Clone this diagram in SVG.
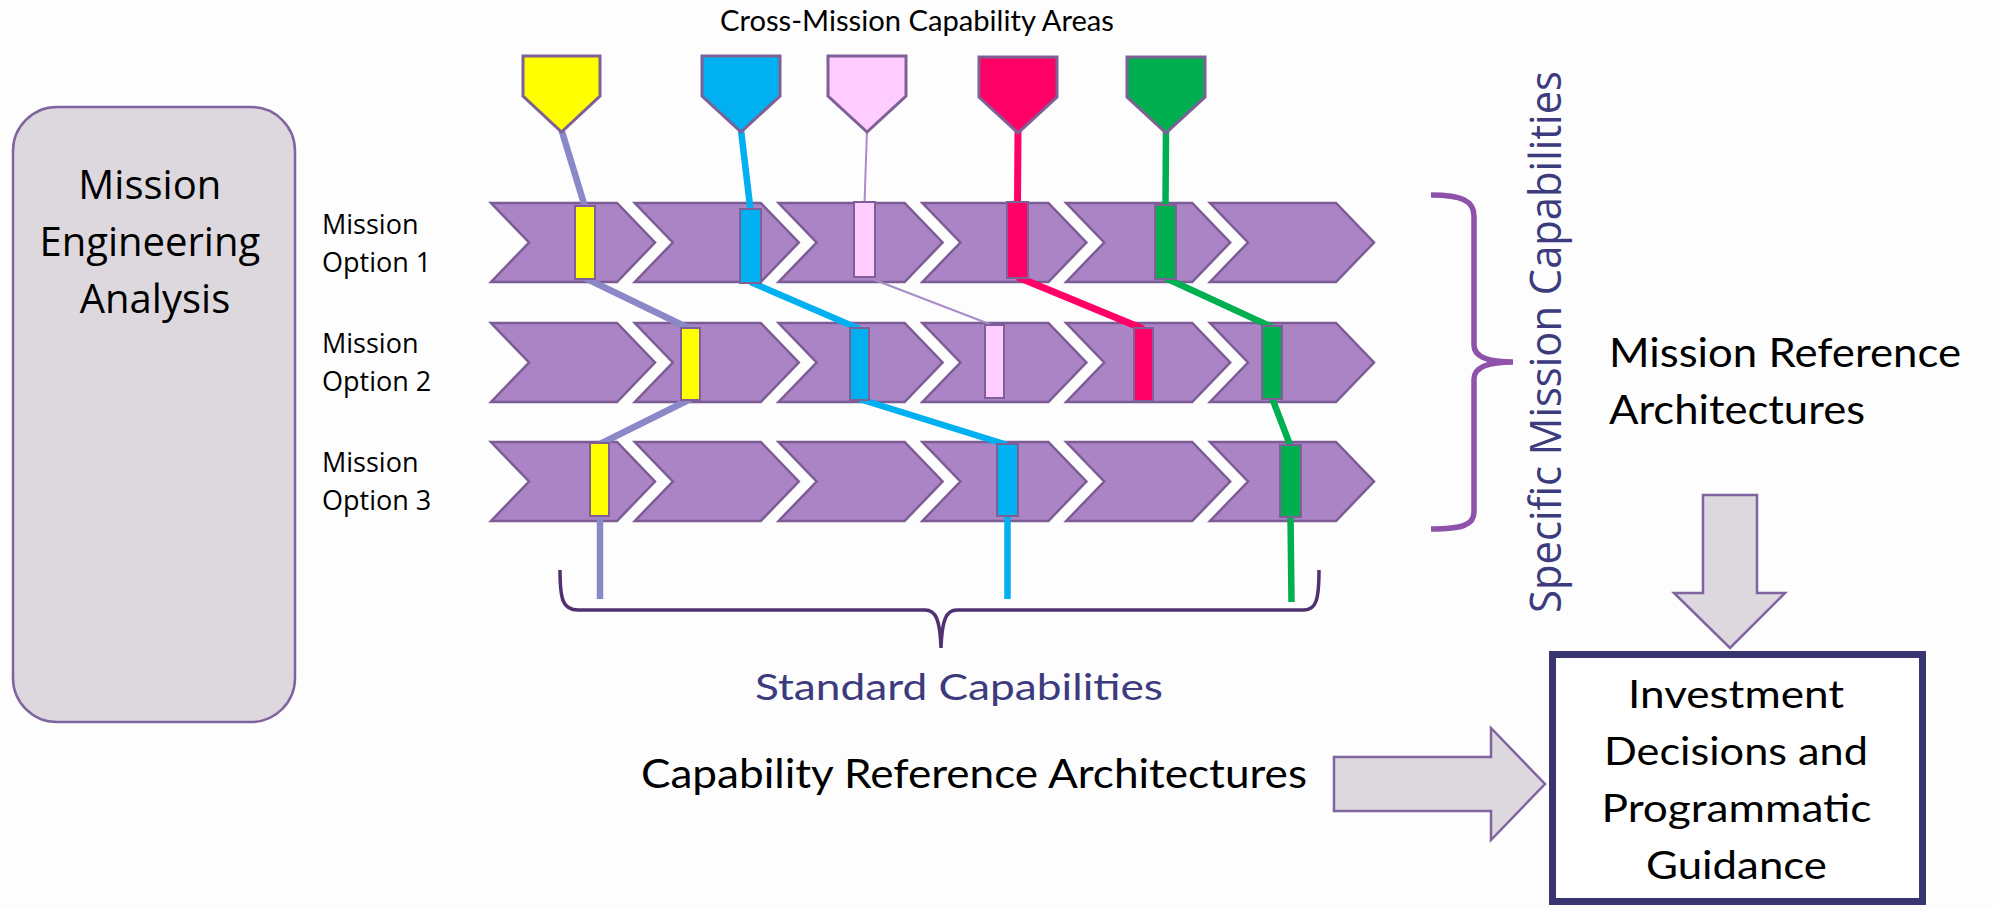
<svg xmlns="http://www.w3.org/2000/svg" width="1994" height="908" viewBox="0 0 1994 908">
  <defs>
    <style>
      .bg { fill: #fdfdfd; }
      .panel { fill: #ddd8dd; stroke: #8064a2; stroke-width: 2.5; }
      .chev { fill: #ab84c5; stroke: #7b5c94; stroke-width: 2.5; stroke-linejoin: miter; }
      .bar { stroke: #7f6096; stroke-width: 2; }
      .tag { stroke: #7f6096; stroke-width: 3; stroke-linejoin: miter; }
      .yellow { fill: #ffff00; }
      .blue { fill: #00b0f0; }
      .pink { fill: #ffccff; }
      .red { fill: #ff0066; }
      .green { fill: #00b050; }
      .link { fill: none; stroke-linecap: butt; }
      .l-yellow { stroke: #8b88c8; stroke-width: 6.5; }
      .l-blue { stroke: #00b0f0; stroke-width: 6.5; }
      .l-pink { stroke: #a98bc8; stroke-width: 2; }
      .l-red { stroke: #ff0066; stroke-width: 7; }
      .l-green { stroke: #00b050; stroke-width: 6.5; }
      .seg { font-family: "Open Sans", "DejaVu Sans", sans-serif; fill: #000; }
      .cal { font-family: Lato, "Liberation Sans", sans-serif; fill: #000; }
      .indigo { fill: #3c3b7d; }
      .arrow { fill: #ddd8dd; stroke: #8064a2; stroke-width: 2.5; stroke-linejoin: miter; }
    </style>
    <!-- one chevron step, 164 wide, 79 tall -->
    <polygon id="step" class="chev" points="0,0 126,0 164,39.5 126,79 0,79 38,39.5"/>
    <!-- one row of six steps -->
    <g id="step-row">
      <use href="#step" x="491"/>
      <use href="#step" x="634.8"/>
      <use href="#step" x="778.6"/>
      <use href="#step" x="922.4"/>
      <use href="#step" x="1066.2"/>
      <use href="#step" x="1210"/>
    </g>
  </defs>

  <rect class="bg" x="0" y="0" width="1994" height="908"/>

  <!-- left panel -->
  <g id="mission-engineering-analysis">
    <rect class="panel" x="13" y="107" width="282" height="615" rx="44" ry="44"/>
    <text class="seg" font-size="40" text-anchor="middle">
      <tspan x="155" y="199">Mission</tspan>
      <tspan x="155" y="256">Engineering</tspan>
      <tspan x="155" y="313">Analysis</tspan>
    </text>
  </g>

  <!-- heading -->
  <g id="capability-areas-title">
    <text class="cal" font-size="28" x="720" y="31" textLength="394" lengthAdjust="spacingAndGlyphs">Cross-Mission Capability Areas</text>
  </g>

  <!-- option labels -->
  <g id="label-option-1">
    <text class="seg" font-size="27"><tspan x="322" y="234">Mission</tspan><tspan x="322" y="272">Option 1</tspan></text>
  </g>
  <g id="label-option-2">
    <text class="seg" font-size="27"><tspan x="322" y="353">Mission</tspan><tspan x="322" y="391">Option 2</tspan></text>
  </g>
  <g id="label-option-3">
    <text class="seg" font-size="27"><tspan x="322" y="472">Mission</tspan><tspan x="322" y="510">Option 3</tspan></text>
  </g>

  <!-- chevron rows -->
  <g id="mission-option-1"><use href="#step-row" y="203"/></g>
  <g id="mission-option-2"><use href="#step-row" y="323"/></g>
  <g id="mission-option-3"><use href="#step-row" y="442"/></g>

  <!-- capability threads -->
  <g id="connectors">
    <polyline class="link l-yellow" points="561.5,130 585,207"/>
    <polyline class="link l-yellow" points="585,278 690.5,329"/>
    <polyline class="link l-yellow" points="690.5,399 600,444"/>
    <polyline class="link l-yellow" points="600,516 600,599"/>

    <polyline class="link l-blue" points="741,130 750.5,210"/>
    <polyline class="link l-blue" points="750.5,282 859.5,329"/>
    <polyline class="link l-blue" points="859.5,399 1007.5,445"/>
    <polyline class="link l-blue" points="1007.5,515 1007.5,599"/>

    <polyline class="link l-pink" points="867,130 864.5,203"/>
    <polyline class="link l-pink" points="864.5,276 994.5,326"/>

    <polyline class="link l-red" points="1018,130 1017.5,203"/>
    <polyline class="link l-red" points="1017.5,277 1143.5,329"/>

    <polyline class="link l-green" points="1166,130 1165.5,206"/>
    <polyline class="link l-green" points="1165.5,278 1272,327"/>
    <polyline class="link l-green" points="1272,398 1290.5,446"/>
    <polyline class="link l-green" points="1290.5,516 1291.5,602"/>
  </g>

  <!-- capability slots inside each option -->
  <g id="option-1-slots">
    <rect class="bar yellow" x="575" y="206" width="20" height="73"/>
    <rect class="bar blue" x="740" y="209" width="21" height="74"/>
    <rect class="bar pink" x="854" y="202" width="21" height="75"/>
    <rect class="bar red" x="1007" y="202" width="21" height="76"/>
    <rect class="bar green" x="1155" y="205" width="21" height="74"/>
  </g>
  <g id="option-2-slots">
    <rect class="bar yellow" x="681" y="328" width="19" height="72"/>
    <rect class="bar blue" x="850" y="328" width="19" height="72"/>
    <rect class="bar pink" x="985" y="325" width="19" height="73"/>
    <rect class="bar red" x="1134" y="328" width="19" height="73"/>
    <rect class="bar green" x="1262" y="326" width="20" height="73"/>
  </g>
  <g id="option-3-slots">
    <rect class="bar yellow" x="590" y="443" width="19" height="73"/>
    <rect class="bar blue" x="997" y="444" width="21" height="72"/>
    <rect class="bar green" x="1280" y="445" width="21" height="72"/>
  </g>

  <!-- capability area tags -->
  <g id="area-yellow"><polygon class="tag yellow" points="523,56 600,56 600,96 561.5,132 523,96"/></g>
  <g id="area-blue"><polygon class="tag blue" points="702,56 780,56 780,96 741,132 702,96"/></g>
  <g id="area-pink"><polygon class="tag pink" points="828,56 906,56 906,96 867,132 828,96"/></g>
  <g id="area-red"><polygon class="tag red" points="979,57 1057,57 1057,97 1018,133 979,97"/></g>
  <g id="area-green"><polygon class="tag green" points="1127,57 1205,57 1205,97 1166,133 1127,97"/></g>

  <!-- standard capabilities brace -->
  <g id="standard-capabilities">
    <path d="M560,570 C560,600 563,610 578,610 L925,610 C936,610 940,620 941,648 C942,620 946,610 957,610 L1304,610 C1316,610 1319,600 1319,570" fill="none" stroke="#503070" stroke-width="3.5"/>
    <text class="cal indigo" font-size="36" x="755" y="700" textLength="408" lengthAdjust="spacingAndGlyphs">Standard Capabilities</text>
  </g>

  <!-- specific mission capabilities brace -->
  <g id="specific-mission-capabilities">
    <path d="M1431,195 C1462,195 1474,201 1474,216 L1474,345 C1474,357 1489,362 1513,362 C1489,362 1474,367 1474,379 L1474,512 C1474,525 1462,529 1431,529" fill="none" stroke="#8e52aa" stroke-width="5.5"/>
    <text class="seg indigo" font-size="43" transform="translate(1561,613) rotate(-90)" x="0" y="0" textLength="542" lengthAdjust="spacingAndGlyphs">Specific Mission Capabilities</text>
  </g>

  <!-- mission reference architectures -->
  <g id="mission-reference-architectures">
    <text class="cal" font-size="41" x="1609" y="367" textLength="352" lengthAdjust="spacingAndGlyphs">Mission Reference</text>
    <text class="cal" font-size="41" x="1609" y="424" textLength="256" lengthAdjust="spacingAndGlyphs">Architectures</text>
  </g>

  <!-- capability reference architectures -->
  <g id="capability-reference-architectures">
    <text class="cal" font-size="40" x="641" y="788" textLength="666" lengthAdjust="spacingAndGlyphs">Capability Reference Architectures</text>
  </g>

  <!-- block arrows -->
  <g id="arrow-down">
    <polygon class="arrow" points="1703,495 1757,495 1757,593 1785,593 1730,648 1674,593 1703,593"/>
  </g>
  <g id="arrow-right">
    <polygon class="arrow" points="1334,757 1491,757 1491,728 1545,784 1491,840 1491,811 1334,811"/>
  </g>

  <!-- investment decisions -->
  <g id="investment-decisions">
    <rect x="1552.5" y="654.5" width="370" height="247" fill="#ffffff" stroke="#393570" stroke-width="7"/>
    <text class="cal" font-size="39" x="1628" y="708" textLength="216" lengthAdjust="spacingAndGlyphs">Investment</text>
    <text class="cal" font-size="39" x="1604" y="765" textLength="264" lengthAdjust="spacingAndGlyphs">Decisions and</text>
    <text class="cal" font-size="39" x="1601.5" y="822" textLength="270" lengthAdjust="spacingAndGlyphs">Programmatic</text>
    <text class="cal" font-size="39" x="1646" y="879" textLength="181" lengthAdjust="spacingAndGlyphs">Guidance</text>
  </g>
</svg>
